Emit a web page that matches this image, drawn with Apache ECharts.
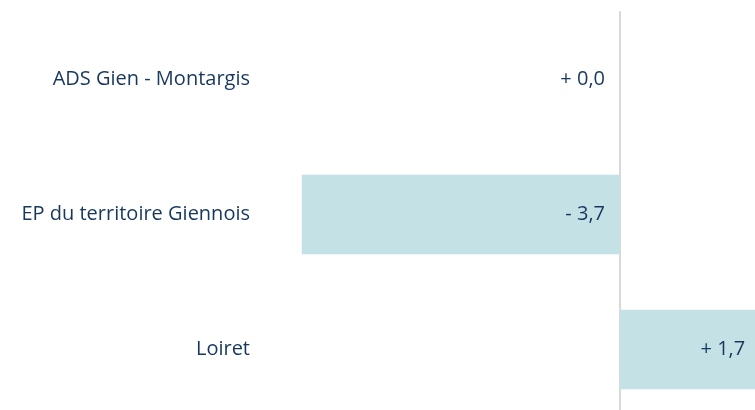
<!DOCTYPE html>
<html><head><meta charset="utf-8">
<script src="https://cdn.jsdelivr.net/npm/echarts@6/dist/echarts.min.js"></script>
<style>html,body{margin:0;padding:0;background:#fff}#c{width:755px;height:410px}</style>
</head><body><div id="c"></div>
<script>
var categories = ["ADS Gien - Montargis", "EP du territoire Giennois", "Loiret"];
var values = [0.0, -3.7, 1.7];

function fmt(v){
  var s = Math.abs(v).toFixed(1).replace('.', ',');
  return (v < 0 ? '- ' : '+ ') + s;
}
var textColor = '#17375e';
var font = '"Open Sans", sans-serif';

var data = values.map(function(v){
  var lab;
  if (v > 0) lab = {position:'insideRight', distance:21};
  else if (v < 0) lab = {position:'insideRight', distance:15};
  else lab = {position:'left', distance:15};
  return {value:v, label:lab};
});

var chart = echarts.init(document.getElementById('c'));
chart.setOption({
  animation:false,
  grid:{left:276, width:516, top:12, height:405, containLabel:false, outerBoundsMode:'none'},
  xAxis:{type:'value', min:-4, max:2, show:false},
  yAxis:{type:'category', data:categories, inverse:true,
    axisLine:{onZero:true, lineStyle:{color:'#d9d9d9', width:2}},
    axisTick:{show:false},
    axisLabel:{margin:26, color:textColor, fontFamily:font, fontSize:20, align:'right'}
  },
  series:[{type:'bar', data:data, barCategoryGap:'41%', clip:false,
    itemStyle:{color:'#c4e1e6'},
    label:{show:true, color:textColor, fontFamily:font, fontSize:20,
      formatter:function(p){return fmt(p.value);}}
  }]
});
</script></body></html>
